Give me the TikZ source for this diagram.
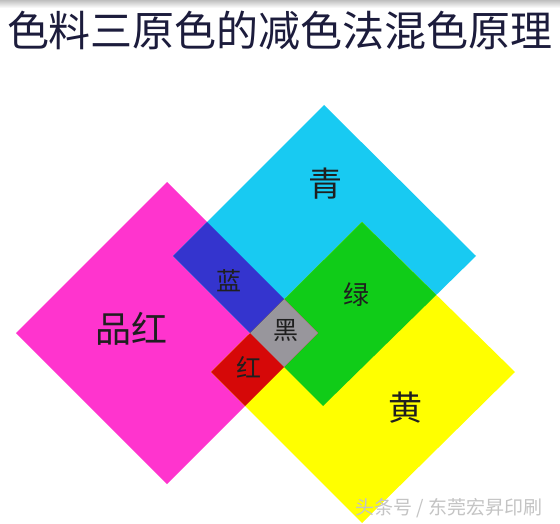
\documentclass[tikz,border=0pt]{standalone}
\usepackage{fontspec}
\newfontfamily\cjk{Noto Sans CJK SC}
\definecolor{cMag}{RGB}{255,52,206}
\definecolor{cCyan}{RGB}{24,202,242}
\definecolor{cYel}{RGB}{255,255,0}
\definecolor{cBlue}{RGB}{52,52,206}
\definecolor{cGreen}{RGB}{16,204,24}
\definecolor{cRed}{RGB}{214,8,8}
\definecolor{cGray}{RGB}{152,150,156}
\definecolor{cTitle}{RGB}{28,28,60}
\definecolor{cMark}{RGB}{196,196,196}
\tikzset{
  lbl/.style={inner sep=0pt, font=\cjk\fontsize{#1}{#1}\selectfont, text=black!88},
  ttl/.style={inner sep=0pt, font=\cjk\fontsize{42}{42}\selectfont, text=cTitle},
}
\begin{document}
\begin{tikzpicture}[x=1pt,y=-1pt]
\useasboundingbox (0,0) rectangle (560,524);
\fill[white] (0,0) rectangle (560,524);
\shade[top color=black!25, bottom color=white] (0,0) rectangle (560,8);
% square corners
\coordinate (mT) at (167,182); \coordinate (mR) at (318,333);
\coordinate (mB) at (167,484); \coordinate (mL) at (16,333);
\coordinate (cT) at (324,105); \coordinate (cR) at (476,256);
\coordinate (cB) at (323,406); \coordinate (cL) at (173,256);
\coordinate (yT) at (362,222); \coordinate (yR) at (515,372);
\coordinate (yB) at (362,523); \coordinate (yL) at (211,372);
% three squares
\fill[cMag] (mT) -- (mR) -- (mB) -- (mL) -- cycle;
\fill[cCyan] (cT) -- (cR) -- (cB) -- (cL) -- cycle;
\fill[cYel] (yT) -- (yR) -- (yB) -- (yL) -- cycle;
% pairwise overlaps
\begin{scope}
  \clip (mT) -- (mR) -- (mB) -- (mL) -- cycle;
  \fill[cBlue] (cT) -- (cR) -- (cB) -- (cL) -- cycle;
\end{scope}
\begin{scope}
  \clip (cT) -- (cR) -- (cB) -- (cL) -- cycle;
  \fill[cGreen] (yT) -- (yR) -- (yB) -- (yL) -- cycle;
\end{scope}
\begin{scope}
  \clip (mT) -- (mR) -- (mB) -- (mL) -- cycle;
  \fill[cRed] (yT) -- (yR) -- (yB) -- (yL) -- cycle;
\end{scope}
% triple overlap
\begin{scope}
  \clip (mT) -- (mR) -- (mB) -- (mL) -- cycle;
  \clip (cT) -- (cR) -- (cB) -- (cL) -- cycle;
  \fill[cGray] (yT) -- (yR) -- (yB) -- (yL) -- cycle;
\end{scope}
% texts
\node[ttl] (title) at (280,31) {色料三原色的减色法混色原理};
\node[lbl=34] (qing) at (325,184) {青};
\node[lbl=36] (pinhong) at (131,329) {品红};
\node[lbl=34] (huang) at (405,408) {黄};
\node[lbl=25] (lan) at (229,281) {蓝};
\node[lbl=25] (hei) at (286,331) {黑};
\node[lbl=25] (hong) at (249,367) {红};
\node[lbl=26] (lv) at (356,295) {绿};
\node[inner sep=0pt, font=\cjk\fontsize{19}{19}\selectfont, text=cMark] (mark) at (449,508) {头条号 / 东莞宏昇印刷};
\end{tikzpicture}
\end{document}
